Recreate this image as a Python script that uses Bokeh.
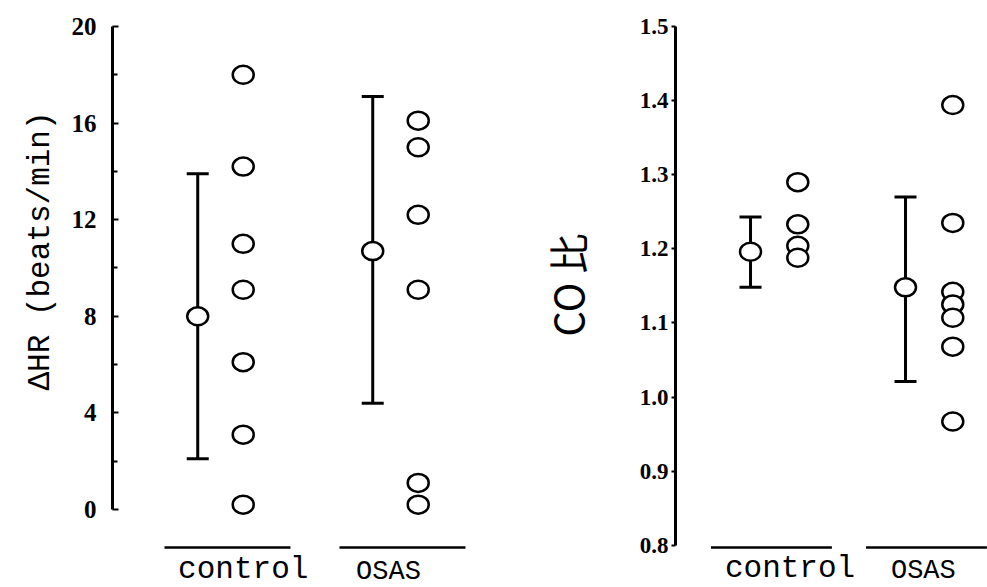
from bokeh.plotting import figure
from bokeh.models import Range1d, Whisker, TeeHead, ColumnDataSource, FixedTicker, Title, PrintfTickFormatter
from bokeh.layouts import row
from bokeh.embed import file_html
from bokeh.resources import INLINE
from bokeh.core.properties import value

# ---------------- data ----------------
groups = ["control", "OSAS"]

# left panel: delta HR (beats/min)
hr_control = [18.0, 14.2, 11.0, 9.1, 6.1, 3.1, 0.2]
hr_osas = [16.1, 15.0, 12.2, 9.1, 1.1, 0.2]
hr_mean = [8.0, 10.7]
hr_upper = [13.9, 17.1]
hr_lower = [2.1, 4.4]
hr_major_ticks = [0, 4, 8, 12, 16, 20]
hr_minor_ticks = [2, 6, 10, 14, 18]

# right panel: CO ratio
co_control = [1.29, 1.233, 1.204, 1.188]
co_osas = [1.394, 1.235, 1.142, 1.125, 1.107, 1.068, 0.967]
co_mean = [1.196, 1.148]
co_upper = [1.243, 1.27]
co_lower = [1.148, 1.021]
co_major_ticks = [0.8, 0.9, 1.0, 1.1, 1.2, 1.3, 1.4, 1.5]


def panel(width, border_left, border_top, xr, yr, ybounds, points, means, uppers, lowers,
          mean_off, pt_off, half, base_y, text_y, lab_off, ylabel, ylabel_offset,
          ylabel_standoff, ylabel_font, ylabel_size, ticks, minor, ticks_inside, label_standoff,
          tick_size, fmt=None):
    p = figure(width=width, height=587, output_backend="svg", toolbar_location=None,
               x_range=Range1d(*xr), y_range=Range1d(*yr), x_axis_location=None,
               min_border_left=border_left, min_border_right=0, min_border_top=border_top,
               min_border_bottom=0, outline_line_color=None, background_fill_color="white",
               border_fill_color="white")
    p.grid.visible = False
    ax = p.yaxis[0]
    ax.bounds = ybounds
    ax.ticker = FixedTicker(ticks=ticks, minor_ticks=minor)
    if fmt:
        ax.formatter = PrintfTickFormatter(format=fmt)
    ax.axis_line_width = 3
    ax.major_tick_line_width = 2
    ax.minor_tick_line_width = 2
    if ticks_inside:
        ax.major_tick_in, ax.major_tick_out = 6, 0
        ax.minor_tick_in, ax.minor_tick_out = 5, 0
    else:
        ax.major_tick_in, ax.major_tick_out = 0, 4
        ax.minor_tick_in, ax.minor_tick_out = 0, 0
    ax.major_label_standoff = label_standoff
    ax.major_label_text_font = "Liberation Serif"
    ax.major_label_text_font_style = "bold"
    ax.major_label_text_font_size = tick_size
    ax.major_label_text_color = "black"

    t = Title(text=ylabel, align="left", offset=ylabel_offset, standoff=ylabel_standoff,
              text_font=ylabel_font, text_font_size=ylabel_size, text_font_style="normal",
              text_color="black")
    p.add_layout(t, "left")

    # error bars
    src = ColumnDataSource(dict(x=[i + mean_off for i in range(len(groups))],
                                m=means, up=uppers, lo=lowers))
    w = Whisker(base="x", upper="up", lower="lo", source=src, dimension="height",
                line_width=3, line_color="black",
                upper_head=TeeHead(size=22, line_width=3, line_color="black"),
                lower_head=TeeHead(size=22, line_width=3, line_color="black"))
    p.add_layout(w)
    p.ellipse(x="x", y="m", source=src, width=21, height=18, width_units="screen",
              height_units="screen", fill_color="white", line_color="black", line_width=2.5)

    # individual points
    for i, vals in enumerate(points):
        p.ellipse(x=[i + pt_off] * len(vals), y=vals, width=21, height=18,
                  width_units="screen", height_units="screen", fill_color="white",
                  line_color="black", line_width=2.5)

    # group baselines and labels
    p.segment(x0=[i - half for i in range(len(groups))], x1=[i + half for i in range(len(groups))],
              y0=[base_y] * len(groups), y1=[base_y] * len(groups), line_width=2.5, line_color="black")
    p.text(x=[0 + lab_off[0]], y=[text_y], text=[groups[0]], text_align="center",
           text_baseline="bottom", text_font=value("Liberation Mono"), text_font_size="31px",
           text_color="black")
    p.text(x=[1 + lab_off[1]], y=[text_y], text=[groups[1]], text_align="center",
           text_baseline="bottom", text_font=value("Liberation Mono"), text_font_size="27px",
           text_color="black")
    return p


left = panel(width=490, border_left=112, border_top=26,
             xr=(-0.657, 1.503), yr=(-3.23, 20), ybounds=(0, 20),
             points=[hr_control, hr_osas], means=hr_mean, uppers=hr_upper, lowers=hr_lower,
             mean_off=-0.17, pt_off=0.09, half=0.36, base_y=-1.57, text_y=-3.19,
             lab_off=(0.09, -0.08), ylabel="ΔHR (beats/min)", ylabel_offset=197,
             ylabel_standoff=22, ylabel_font="Liberation Mono", ylabel_size="31px",
             ticks=hr_major_ticks, minor=hr_minor_ticks, ticks_inside=True, label_standoff=16,
             tick_size="25px")

right = panel(width=497, border_left=185, border_top=15,
              xr=(-0.619, 1.394), yr=(0.743, 1.5), ybounds=(0.8, 1.5),
              points=[co_control, co_osas], means=co_mean, uppers=co_upper, lowers=co_lower,
              mean_off=-0.135, pt_off=0.17, half=0.39, base_y=0.797, text_y=0.7445,
              lab_off=(0.12, -0.02), ylabel="CO 比", ylabel_offset=251,
              ylabel_standoff=82, ylabel_font="Noto Sans CJK JP", ylabel_size="40px",
              ticks=co_major_ticks, minor=[], ticks_inside=False, label_standoff=3,
              tick_size="23px", fmt="%.1f")

layout = row(left, right)
open("out.html", "w").write(file_html(layout, INLINE))
